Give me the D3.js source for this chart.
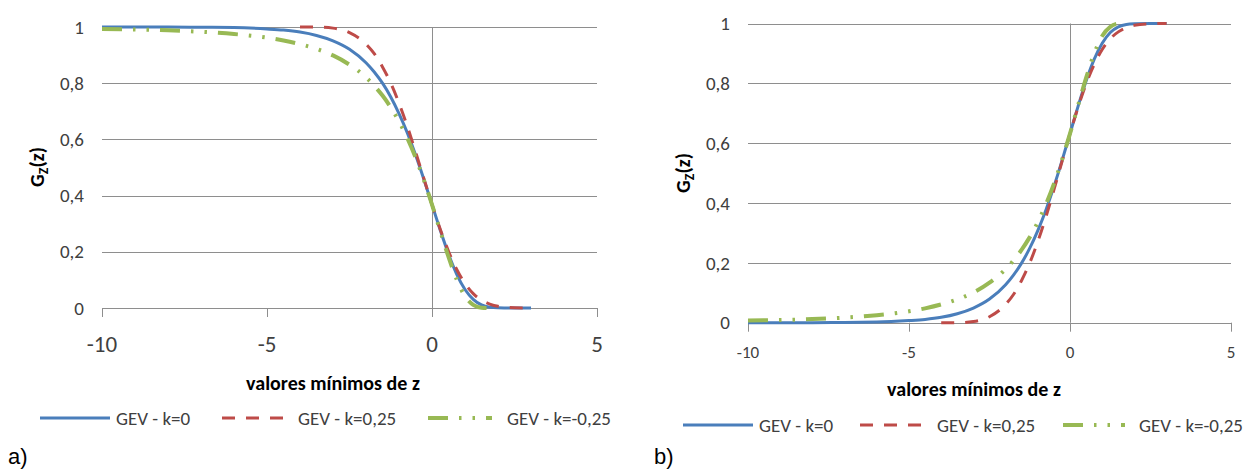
<!DOCTYPE html>
<html>
<head>
<meta charset="utf-8">
<script src="https://cdn.jsdelivr.net/npm/d3@7"></script>
<style>
	body { margin: 0; background: #fff; }
	svg { display: block; }
	.tick-label { font-family: Carlito, Lato, "Liberation Sans", sans-serif; fill: #404040; }
	.axis-title { font-family: Carlito, Lato, "Liberation Sans", sans-serif; font-weight: bold; fill: #000; }
	.legend-text { font-family: Carlito, Lato, "Liberation Sans", sans-serif; fill: #404040; }
	.panel-tag { font-family: "Liberation Sans", Arial, sans-serif; fill: #000; }
</style>
</head>
<body>
<svg id="chart" width="1250" height="470"></svg>
<script>

/* z values where the distributions were evaluated */
var zValues = [-10, -9, -8, -7, -6, -5, -4.5, -4, -3.5, -3, -2.5, -2, -1.75, -1.5, -1.25,
	-1, -0.75, -0.5, -0.25, 0, 0.25, 0.5, 0.75, 1, 1.25, 1.5, 1.75, 2, 2.5, 3];

/* a) minimum values, decreasing G_Z(z) */
var minK0 = [1.000, 1.000, 1.000, 0.999, 0.998, 0.993, 0.989, 0.982, 0.970, 0.951, 0.921, 0.873, 0.840, 0.800, 0.751,
	0.692, 0.624, 0.545, 0.459, 0.368, 0.277, 0.192, 0.120, 0.066, 0.031, 0.011, 0.003, 0.001, 0.000, 0.000];
var minK025 = [null, null, null, null, null, null, null, 1.000, 1.000, 0.996, 0.980, 0.939, 0.905, 0.858, 0.800,
	0.729, 0.647, 0.556, 0.462, 0.368, 0.280, 0.202, 0.137, 0.087, 0.051, 0.028, 0.014, 0.006, 0.001, 0.000];
var minKm025 = [0.993, 0.991, 0.988, 0.983, 0.975, 0.962, 0.952, 0.939, 0.922, 0.899, 0.866, 0.821, 0.791, 0.756, 0.714,
	0.664, 0.605, 0.536, 0.456, 0.368, 0.274, 0.182, 0.101, 0.042, 0.011, 0.001, 0.000, null, null, null];

/* b) increasing G_Z(z) */
var maxK0 = [0.000, 0.000, 0.000, 0.001, 0.002, 0.007, 0.011, 0.018, 0.030, 0.049, 0.079, 0.127, 0.160, 0.200, 0.249,
	0.308, 0.376, 0.455, 0.541, 0.632, 0.723, 0.808, 0.880, 0.934, 0.970, 0.989, 0.997, 0.999, 1.000, 1.000];
var maxK025 = [null, null, null, null, null, null, null, 0.000, 0.000, 0.004, 0.020, 0.061, 0.095, 0.142, 0.200,
	0.271, 0.353, 0.444, 0.538, 0.632, 0.720, 0.798, 0.863, 0.913, 0.949, 0.972, 0.986, 0.994, 0.999, 1.000];
var maxKm025 = [0.007, 0.009, 0.012, 0.017, 0.025, 0.038, 0.048, 0.061, 0.078, 0.101, 0.134, 0.179, 0.209, 0.244, 0.286,
	0.336, 0.395, 0.464, 0.544, 0.632, 0.726, 0.818, 0.899, 0.958, 0.989, 0.999, 1.000, null, null, null];

var seriesNames = ["GEV - k=0", "GEV - k=0,25", "GEV - k=-0,25"];
var xTicks = [-10, -5, 0, 5];
var yTicks = [0, 0.2, 0.4, 0.6, 0.8, 1];
var xTitle = "valores mínimos de z";

// line style per series: colour, width, dash pattern
var styles = [
	{ color: "#4a7ebb", width: 3, dash: null },
	{ color: "#be4b48", width: 3, dash: "13,11" },
	{ color: "#98b954", width: 4, dash: "20,11,2.5,11,2.5,11" }
];

var svg = d3.select("#chart");

svg.append("rect")
	.attr("width", 1250)
	.attr("height", 470)
	.attr("fill", "#fff");

/* Draws one panel: grid, axes, curves, titles and legend */
function drawPanel(p) {
	var g = svg.append("g");

	var x = d3.scaleLinear().domain([-10, 5]).range([p.left, p.right]);
	var y = d3.scaleLinear().domain([0, 1]).range([p.bottom, p.top]);

	// horizontal gridlines (the 0 line doubles as x axis)
	g.selectAll("line.grid")
		.data(yTicks)
		.enter().append("line")
		.attr("class", "grid")
		.attr("x1", x(-10))
		.attr("x2", x(5))
		.attr("y1", function(d) { return Math.round(y(d)) + 0.5; })
		.attr("y2", function(d) { return Math.round(y(d)) + 0.5; })
		.attr("stroke", "#8e8e8e")
		.attr("stroke-width", 1);

	// vertical axis sits at z = 0
	g.append("line")
		.attr("x1", Math.round(x(0)) + 0.5)
		.attr("x2", Math.round(x(0)) + 0.5)
		.attr("y1", y(1))
		.attr("y2", y(0))
		.attr("stroke", "#8e8e8e");

	// tick marks below the x axis
	g.selectAll("line.xtick")
		.data(xTicks)
		.enter().append("line")
		.attr("class", "xtick")
		.attr("x1", function(d) { return Math.round(x(d)) + 0.5; })
		.attr("x2", function(d) { return Math.round(x(d)) + 0.5; })
		.attr("y1", y(0))
		.attr("y2", y(0) + 9)
		.attr("stroke", "#8e8e8e");

	g.selectAll("text.xlabel")
		.data(xTicks)
		.enter().append("text")
		.attr("class", "tick-label")
		.attr("x", function(d) { return x(d); })
		.attr("y", p.xLabelY)
		.attr("text-anchor", "middle")
		.style("font-size", p.xLabelSize + "px")
		.text(function(d) { return d; });

	g.selectAll("text.ylabel")
		.data(yTicks)
		.enter().append("text")
		.attr("class", "tick-label")
		.attr("x", p.yLabelX)
		.attr("y", function(d) { return y(d); })
		.attr("dy", "0.35em")
		.attr("text-anchor", "end")
		.style("font-size", "19px")
		.text(function(d) { return String(d).replace(".", ","); });

	// the three curves
	var line = d3.line()
		.defined(function(d) { return d.v !== null; })
		.x(function(d) { return x(d.z); })
		.y(function(d) { return y(d.v); })
		.curve(d3.curveMonotoneX);

	p.series.forEach(function(values, i) {
		var pts = zValues.map(function(z, j) { return { z: z, v: values[j] }; });
		g.append("path")
			.datum(pts)
			.attr("d", line)
			.attr("fill", "none")
			.attr("stroke", styles[i].color)
			.attr("stroke-width", styles[i].width)
			.attr("stroke-dasharray", styles[i].dash);
	});

	// axis titles
	g.append("text")
		.attr("class", "axis-title")
		.attr("x", p.titleX)
		.attr("y", p.titleY)
		.attr("text-anchor", "middle")
		.style("font-size", "20px")
		.text(xTitle);

	var yt = g.append("text")
		.attr("class", "axis-title")
		.attr("transform", "translate(" + p.yTitleX + "," + p.yTitleY + ") rotate(-90)")
		.attr("text-anchor", "middle")
		.style("font-size", "20px");
	yt.append("tspan").text("G");
	yt.append("tspan").attr("dy", 4).style("font-size", "14px").text("Z");
	yt.append("tspan").attr("dy", -4).text("(z)");

	// legend
	p.legend.forEach(function(item, i) {
		g.append("line")
			.attr("x1", item[0])
			.attr("x2", item[1])
			.attr("y1", p.legendY)
			.attr("y2", p.legendY)
			.attr("stroke", styles[i].color)
			.attr("stroke-width", styles[i].width)
			.attr("stroke-dasharray", styles[i].dash);
		g.append("text")
			.attr("class", "legend-text")
			.attr("x", item[2])
			.attr("y", p.legendY)
			.attr("dy", "0.35em")
			.style("font-size", "19px")
			.text(seriesNames[i]);
	});

	g.append("text")
		.attr("class", "panel-tag")
		.attr("x", p.tagX)
		.attr("y", 464)
		.style("font-size", "22px")
		.text(p.tag);
}

drawPanel({
	left: 102, right: 597, top: 27, bottom: 308,
	xLabelY: 352, xLabelSize: 23, yLabelX: 84,
	titleX: 333, titleY: 390, yTitleX: 44, yTitleY: 167,
	legendY: 418,
	legend: [[40, 110, 116], [222, 290, 298], [428, 492, 507]],
	series: [minK0, minK025, minKm025],
	tag: "a)", tagX: 8
});

drawPanel({
	left: 748, right: 1231, top: 23.5, bottom: 322.7,
	xLabelY: 358, xLabelSize: 17, yLabelX: 730,
	titleX: 974, titleY: 396, yTitleX: 690, yTitleY: 173,
	legendY: 425,
	legend: [[683, 753, 759], [860, 929, 937], [1063, 1125, 1139]],
	series: [maxK0, maxK025, maxKm025],
	tag: "b)", tagX: 654
});

</script>
</body>
</html>
